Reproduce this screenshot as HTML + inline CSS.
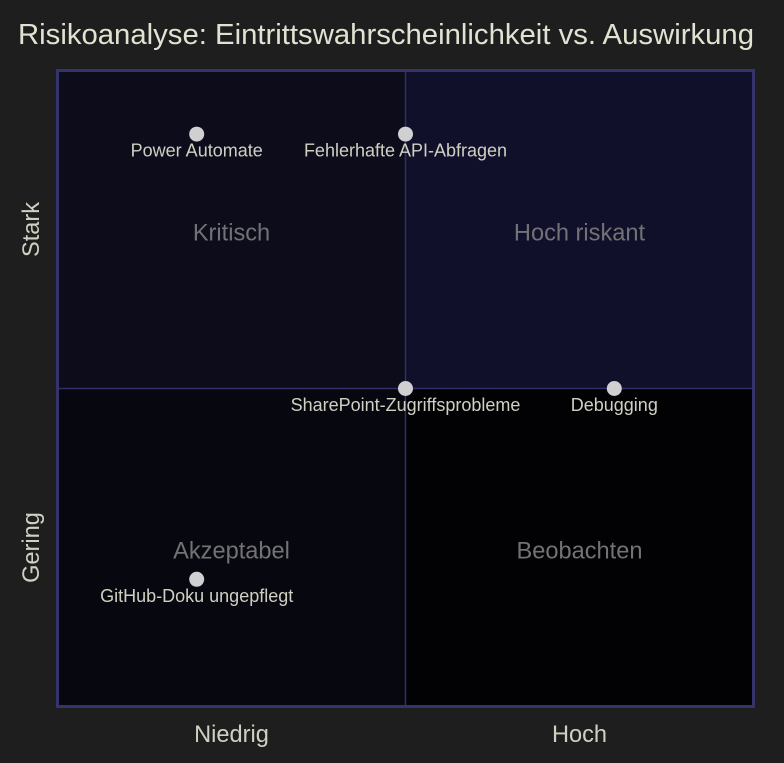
<!DOCTYPE html>
<html lang="de">
<head>
<meta charset="utf-8">
<title>Risikoanalyse</title>
<style>
html,body{margin:0;padding:0;background:#1e1e1e;}
svg{display:block;font-family:"Liberation Sans",sans-serif;}
</style>
</head>
<body>
<svg id="chart" xmlns="http://www.w3.org/2000/svg" width="784" height="763" viewBox="0 0 784 763">
  <rect x="0" y="0" width="784" height="763" fill="#1e1e1e"/>
  <text x="386" y="44" text-anchor="middle" font-size="29" fill="#e2e2d3" textLength="736" lengthAdjust="spacingAndGlyphs">Risikoanalyse: Eintrittswahrscheinlichkeit vs. Auswirkung</text>
  <g id="quadrants"></g>
  <g id="grid"></g>
  <rect x="57.5" y="70.5" width="696" height="636" fill="none" stroke="#35336b" stroke-width="3"/>
  <g id="quadrant-labels"></g>
  <g id="points"></g>
  <g id="x-axis"></g>
  <g id="y-axis"></g>
</svg>
<script>
const riskNames = ["Power Automate", "Fehlerhafte API-Abfragen", "SharePoint-Zugriffsprobleme", "Debugging", "GitHub-Doku ungepflegt"];
const likelihoodValues = [0.2, 0.5, 0.5, 0.8, 0.2];
const impactValues = [0.9, 0.9, 0.5, 0.5, 0.2];
const quadrantNames = ["Kritisch", "Hoch riskant", "Akzeptabel", "Beobachten"];
const quadrantX0 = [0, 0.5, 0, 0.5];
const quadrantY0 = [0.5, 0.5, 0, 0];
const xTickLabels = ["Niedrig", "Hoch"];
const yTickLabels = ["Gering", "Stark"];
const axisTicks = [0.25, 0.75];

const NS = "http://www.w3.org/2000/svg";
const plotLeft = 57.5, plotWidth = 696, plotTop = 70.5, plotHeight = 636;
const quadrantFills = ["#0c0c1b", "#10102a", "#07070f", "#020205"];
function xScale(v) { return plotLeft + v * plotWidth; }
function yScale(v) { return plotTop + (1 - v) * plotHeight; }
function make(tag, attrs, parent, text) {
  const el = document.createElementNS(NS, tag);
  for (const k in attrs) el.setAttribute(k, attrs[k]);
  if (text !== undefined) el.textContent = text;
  parent.appendChild(el);
  return el;
}

const quadrantsGroup = document.getElementById("quadrants");
const quadrantLabelGroup = document.getElementById("quadrant-labels");
quadrantNames.forEach(function (name, i) {
  const rect = make("rect", {
    x: xScale(quadrantX0[i]),
    y: yScale(quadrantY0[i] + 0.5),
    width: xScale(quadrantX0[i] + 0.5) - xScale(quadrantX0[i]),
    height: yScale(quadrantY0[i]) - yScale(quadrantY0[i] + 0.5),
    fill: quadrantFills[i]
  }, quadrantsGroup);
  
  
  const label = make("text", {
    x: xScale(quadrantX0[i] + 0.25),
    y: yScale(quadrantY0[i] + 0.25) + 11,
    "text-anchor": "middle",
    "font-size": 23.6,
    fill: "#727276"
  }, quadrantLabelGroup, name);
  
  
});

const gridGroup = document.getElementById("grid");
const vLine = make("line", { x1: xScale(0.5), x2: xScale(0.5), y1: yScale(1), y2: yScale(0), stroke: "#302f66", "stroke-width": 1.5 }, gridGroup);


const hLine = make("line", { x1: xScale(0), x2: xScale(1), y1: yScale(0.5), y2: yScale(0.5), stroke: "#302f66", "stroke-width": 1.5 }, gridGroup);



const pointsGroup = document.getElementById("points");
riskNames.forEach(function (name, i) {
  const dot = make("circle", {
    cx: xScale(likelihoodValues[i]),
    cy: yScale(impactValues[i]),
    r: 7.5,
    fill: "#d0d0d2"
  }, pointsGroup);
  
  
  const label = make("text", {
    x: xScale(likelihoodValues[i]),
    y: yScale(impactValues[i]) + 22.5,
    "text-anchor": "middle",
    "font-size": 18,
    fill: "#d0d0c2"
  }, pointsGroup, name);
  
  
});

const xAxisGroup = document.getElementById("x-axis");
xTickLabels.forEach(function (name, i) {
  const tick = make("text", {
    x: xScale(axisTicks[i]),
    y: 742,
    "text-anchor": "middle",
    "font-size": 23.6,
    fill: "#d0d0c2"
  }, xAxisGroup, name);
  
  
});

const yAxisGroup = document.getElementById("y-axis");
yTickLabels.forEach(function (name, i) {
  const py = yScale(axisTicks[i]);
  const tick = make("text", {
    x: 39,
    y: py,
    transform: "rotate(-90 39 " + py + ")",
    "text-anchor": "middle",
    "font-size": 23.6,
    fill: "#d0d0c2"
  }, yAxisGroup, name);
  
  
});
</script>
</body>
</html>
